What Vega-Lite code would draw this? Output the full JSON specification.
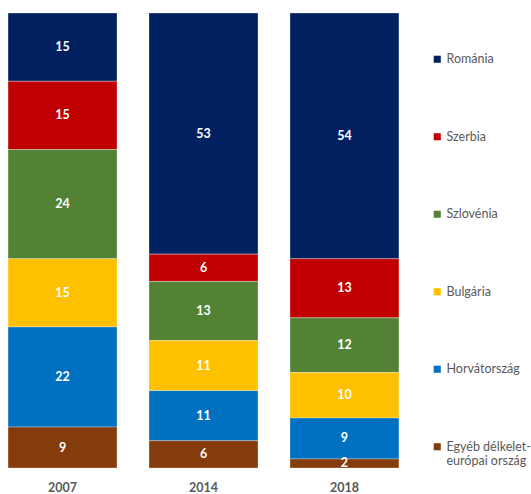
{
  "$schema": "https://vega.github.io/schema/vega-lite/v6.json",
  "width": 407,
  "height": 455,
  "autosize": {"type": "none"},
  "padding": {"left": 0, "top": 13, "right": 124, "bottom": 26},
  "background": "white",
  "config": {"view": {"stroke": null}, "font": "Lato"},
  "data": {
    "values": [
      {"year": "2007", "country": "Románia", "value": 15},
      {"year": "2007", "country": "Szerbia", "value": 15},
      {"year": "2007", "country": "Szlovénia", "value": 24},
      {"year": "2007", "country": "Bulgária", "value": 15},
      {"year": "2007", "country": "Horvátország", "value": 22},
      {"year": "2007", "country": "Egyéb délkelet-európai ország", "value": 9},
      {"year": "2014", "country": "Románia", "value": 53},
      {"year": "2014", "country": "Szerbia", "value": 6},
      {"year": "2014", "country": "Szlovénia", "value": 13},
      {"year": "2014", "country": "Bulgária", "value": 11},
      {"year": "2014", "country": "Horvátország", "value": 11},
      {"year": "2014", "country": "Egyéb délkelet-európai ország", "value": 6},
      {"year": "2018", "country": "Románia", "value": 54},
      {"year": "2018", "country": "Szerbia", "value": 13},
      {"year": "2018", "country": "Szlovénia", "value": 12},
      {"year": "2018", "country": "Bulgária", "value": 10},
      {"year": "2018", "country": "Horvátország", "value": 9},
      {"year": "2018", "country": "Egyéb délkelet-európai ország", "value": 2}
    ]
  },
  "transform": [
    {"calculate": "indexof(['Egyéb délkelet-európai ország','Horvátország','Bulgária','Szlovénia','Szerbia','Románia'], datum.country)", "as": "ord"},
    {"stack": "value", "groupby": ["year"], "sort": [{"field": "ord", "order": "ascending"}], "as": ["y0", "y1"]},
    {"calculate": "(datum.y0 + datum.y1) / 2", "as": "ymid"}
  ],
  "encoding": {
    "x": {
      "field": "year",
      "type": "nominal",
      "scale": {"paddingInner": 0.227, "paddingOuter": 0.057},
      "axis": {
        "title": null,
        "labelAngle": 0,
        "ticks": false,
        "domain": false,
        "labelFontWeight": "bold",
        "labelFontSize": 12.5,
        "labelColor": "#595959",
        "labelPadding": 13
      }
    }
  },
  "layer": [
    {
      "mark": {"type": "bar", "stroke": "#ffffff", "strokeWidth": 0.5, "strokeOpacity": 0.6},
      "encoding": {
        "y": {"field": "y0", "type": "quantitative", "scale": {"domain": [0, 100]}, "axis": null},
        "y2": {"field": "y1"},
        "color": {
          "field": "country",
          "type": "nominal",
          "scale": {
            "domain": ["Románia", "Szerbia", "Szlovénia", "Bulgária", "Horvátország", "Egyéb délkelet-európai ország"],
            "range": ["#002060", "#C00000", "#548235", "#FFC000", "#0070C0", "#843C0C"]
          },
          "legend": {
            "title": null,
            "orient": "none",
            "legendX": 431,
            "legendY": 40,
            "padding": 0,
            "symbolType": "square",
            "symbolSize": 50,
            "symbolStrokeWidth": 0,
            "labelFontSize": 12.5,
            "labelColor": "#595959",
            "labelLimit": 200,
            "rowPadding": 64.5,
            "labelOffset": 3,
            "labelExpr": "datum.label == 'Egyéb délkelet-európai ország' ? ['Egyéb délkelet-', 'európai ország'] : datum.label"
          }
        }
      }
    },
    {
      "mark": {"type": "text", "color": "white", "fontWeight": "bold", "fontSize": 12.5},
      "encoding": {
        "y": {"field": "ymid", "type": "quantitative", "scale": {"domain": [0, 100]}},
        "text": {"field": "value", "type": "quantitative"}
      }
    }
  ]
}
